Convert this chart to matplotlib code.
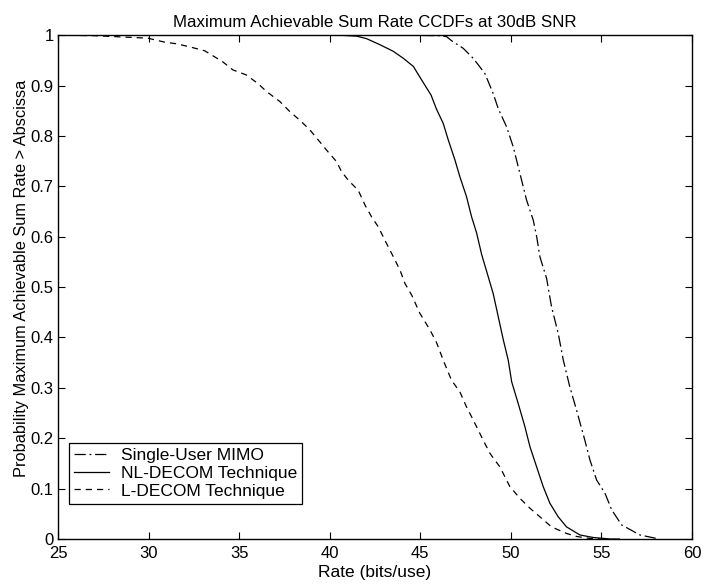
#CCDF of maximum achievable sum rate at 30dB SNR

import numpy as np
import matplotlib
matplotlib.use('Agg')
import matplotlib.pyplot as plt
from matplotlib.ticker import FuncFormatter

plt.rcParams['font.family'] = ['Liberation Sans', 'DejaVu Sans']

#Single-User MIMO (dash-dot)
su_rate = [44.0, 46.0, 46.46, 46.73, 47.37, 47.93, 48.57, 49.03, 49.31, 49.77,
           50.14, 50.41, 50.6, 50.87, 51.24, 51.43, 51.61, 51.98, 52.25, 52.62,
           52.9, 53.26, 53.63, 54.09, 54.37, 54.74, 55.2, 55.57, 56.12, 57.13, 58.2]
su_prob = [1.0, 0.999, 0.997, 0.989, 0.974, 0.954, 0.924, 0.884, 0.854, 0.818,
           0.778, 0.739, 0.712, 0.673, 0.633, 0.6, 0.56, 0.517, 0.461, 0.408,
           0.355, 0.302, 0.256, 0.196, 0.157, 0.117, 0.091, 0.058, 0.028, 0.008, 0.0]

#NL-DECOM (solid)
nl_rate = [38.0, 40.5, 41.5, 42.04, 42.78, 43.51, 44.07, 44.62, 45.08, 45.6,
           45.9, 46.27, 46.55, 46.92, 47.19, 47.56, 47.84, 48.11, 48.39, 48.76,
           49.03, 49.31, 49.59, 49.86, 50.05, 50.41, 50.78, 51.06, 51.43, 51.79,
           52.16, 52.62, 53.08, 53.82, 54.55, 55.5, 56.0]
nl_prob = [1.0, 1.0, 0.998, 0.993, 0.981, 0.968, 0.954, 0.938, 0.911, 0.881,
           0.853, 0.825, 0.792, 0.752, 0.719, 0.679, 0.639, 0.608, 0.565, 0.520,
           0.487, 0.441, 0.395, 0.355, 0.312, 0.269, 0.223, 0.183, 0.143, 0.104,
           0.071, 0.044, 0.024, 0.008, 0.003, 0.0, 0.0]

#L-DECOM (dashed)
l_rate = [25.0, 27.0, 28.2, 29.97, 30.9, 31.53, 32.36, 33.1, 33.65, 34.1,
          34.66, 35.4, 36.04, 36.52, 37.26, 37.81, 38.36, 38.91, 39.46, 39.92,
          40.38, 40.66, 41.03, 41.58, 41.95, 42.32, 42.68, 43.05, 43.42, 43.88,
          44.16, 44.53, 44.98, 45.54, 45.9, 46.27, 46.73, 47.19, 47.56, 47.93,
          48.48, 48.85, 49.4, 49.95, 50.5, 51.06, 51.61, 52.25, 53.08, 53.64,
          54.4, 55.0]
l_prob = [1.0, 0.999, 0.997, 0.994, 0.986, 0.983, 0.976, 0.969, 0.957, 0.947,
          0.931, 0.921, 0.904, 0.888, 0.868, 0.848, 0.831, 0.812, 0.788, 0.768,
          0.749, 0.729, 0.712, 0.692, 0.663, 0.639, 0.620, 0.593, 0.567, 0.534,
          0.507, 0.484, 0.448, 0.415, 0.39, 0.355, 0.315, 0.292, 0.262, 0.236,
          0.196, 0.17, 0.143, 0.104, 0.081, 0.061, 0.044, 0.024, 0.011, 0.005,
          0.001, 0.0]

labels = ['Single-User MIMO', 'NL-DECOM Technique', 'L-DECOM Technique']

fig = plt.figure(figsize=(7.01, 5.86), dpi=100)
ax = fig.add_axes([0.0827, 0.0802, 0.9043, 0.8598])

ax.plot(su_rate, su_prob, color='black', lw=0.9, dashes=(9, 3, 1.5, 3), label=labels[0])
ax.plot(nl_rate, nl_prob, color='black', lw=0.9, ls='-', label=labels[1])
ax.plot(l_rate, l_prob, color='black', lw=0.9, dashes=(5, 4), label=labels[2])

ax.set_xlim(25, 60)
ax.set_ylim(0, 1)
ax.set_xticks(np.arange(25, 61, 5))
ax.set_yticks(np.arange(0, 1.01, 0.1))
ax.yaxis.set_major_formatter(FuncFormatter(lambda v, p: '%g' % round(v, 1)))
ax.tick_params(direction='in', top=True, right=True, length=5, width=0.8,
               labelsize=12, pad=3)
ax.tick_params(axis='x', pad=5)
for s in ax.spines.values():
    s.set_linewidth(1.0)

ax.set_title('Maximum Achievable Sum Rate CCDFs at 30dB SNR', fontsize=12.2, pad=6)
ax.set_xlabel('Rate (bits/use)', fontsize=12.5, labelpad=3)
ax.set_ylabel('Probability Maximum Achievable Sum Rate > Abscissa', fontsize=11.8)
ax.yaxis.set_label_coords(-0.046, 0.518)

leg = ax.legend(loc='lower left', bbox_to_anchor=(0.017, 0.07), fontsize=12.5,
                frameon=True, fancybox=False, framealpha=1, edgecolor='black',
                borderpad=0.3, labelspacing=0.15, handlelength=2.0, handletextpad=0.7,
                borderaxespad=0)
leg.get_frame().set_linewidth(0.9)

plt.savefig('out.png', dpi=100)
